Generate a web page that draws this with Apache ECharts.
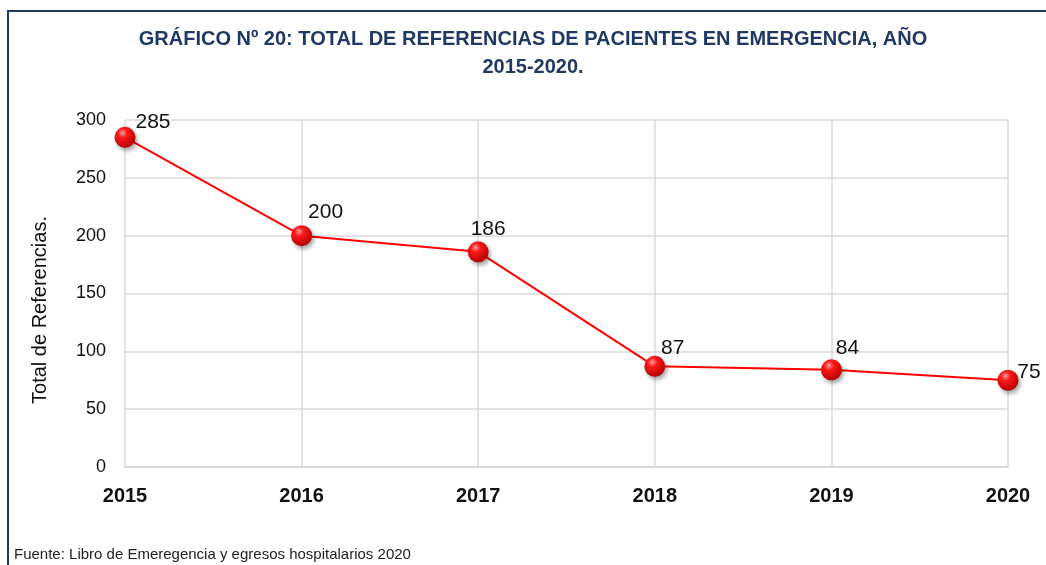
<!DOCTYPE html>
<html>
<head>
<meta charset="utf-8">
<script src="https://cdn.jsdelivr.net/npm/echarts@6/dist/echarts.min.js"></script>
<style>
  html, body { margin: 0; padding: 0; background: #fff; }
  #chart { width: 1046px; height: 565px; }
</style>
</head>
<body>
<div id="chart"></div>
<script>
var years = ['2015', '2016', '2017', '2018', '2019', '2020'];
var referencias = [285, 200, 186, 87, 84, 75];
var yTicks = { min: 0, max: 300, interval: 50 };

// where each value label sits relative to its marker (as in the original)
var labelOffsets = [[28, -15], [24, -23], [10, -23], [18, -18], [16, -22], [21, -8]];

var narrow = "'Liberation Sans Narrow', 'Arial Narrow', 'Liberation Sans', sans-serif";
var navy = '#1F3864';

var chart = echarts.init(document.getElementById('chart'));

var lineData = referencias.map(function (v, i) {
    return { value: v, label: { offset: labelOffsets[i] } };
});

var option = {
    backgroundColor: '#fff',
    animation: false,
    title: {
        text: 'GRÁFICO Nº 20: TOTAL DE REFERENCIAS DE PACIENTES EN EMERGENCIA, AÑO\n2015-2020.',
        left: 528,
        top: 20,
        textAlign: 'center',
        textStyle: {
            fontFamily: narrow,
            fontWeight: 'bold',
            fontSize: 20,
            lineHeight: 28,
            color: navy
        }
    },
    grid: {
        left: 125,
        right: 38,
        top: 120,
        bottom: 98,
        containLabel: false
    },
    xAxis: {
        type: 'category',
        data: years,
        boundaryGap: false,
        axisLine: { lineStyle: { color: '#d9d9d9', width: 2 } },
        axisTick: { show: false },
        splitLine: { show: true, lineStyle: { color: '#d9d9d9', width: 1.5 } },
        axisLabel: {
            margin: 19,
            fontFamily: narrow,
            fontWeight: 'bold',
            fontSize: 20,
            color: '#111'
        }
    },
    yAxis: {
        type: 'value',
        min: yTicks.min,
        max: yTicks.max,
        interval: yTicks.interval,
        axisLine: { show: false },
        axisTick: { show: false },
        splitLine: { lineStyle: { color: '#d9d9d9', width: 1.5 } },
        axisLabel: {
            margin: 19,
            fontFamily: narrow,
            fontSize: 18,
            color: '#111'
        }
    },
    series: [
        {
            type: 'line',
            data: lineData,
            symbol: 'circle',
            symbolSize: 21,
            lineStyle: { color: '#ff0000', width: 2 },
            itemStyle: {
                color: {
                    type: 'radial', x: 0.38, y: 0.3, r: 0.72,
                    colorStops: [
                        { offset: 0, color: '#ffa0a0' },
                        { offset: 0.3, color: '#ff1a1a' },
                        { offset: 1, color: '#b00000' }
                    ]
                },
                shadowColor: 'rgba(0,0,0,0.35)',
                shadowBlur: 4,
                shadowOffsetX: 2,
                shadowOffsetY: 3
            },
            label: {
                show: true,
                position: 'inside',
                fontFamily: narrow,
                fontSize: 21,
                color: '#111'
            },
            z: 5
        }
    ],
    graphic: [
        {
            type: 'rect',
            shape: { x: 8, y: 11, width: 1040, height: 600 },
            style: { fill: 'none', stroke: navy, lineWidth: 2 }
        },
        {
            type: 'text',
            x: 40,
            y: 310,
            rotation: Math.PI / 2,
            style: {
                text: 'Total de Referencias.',
                fontFamily: narrow,
                fontSize: 20,
                fill: '#111',
                textAlign: 'center',
                textVerticalAlign: 'middle'
            }
        },
        {
            type: 'text',
            left: 14,
            top: 547,
            style: {
                text: 'Fuente: Libro de Emeregencia y egresos hospitalarios 2020',
                fontFamily: narrow,
                fontSize: 15,
                fill: '#222'
            }
        }
    ]
};

chart.setOption(option);
</script>
</body>
</html>
